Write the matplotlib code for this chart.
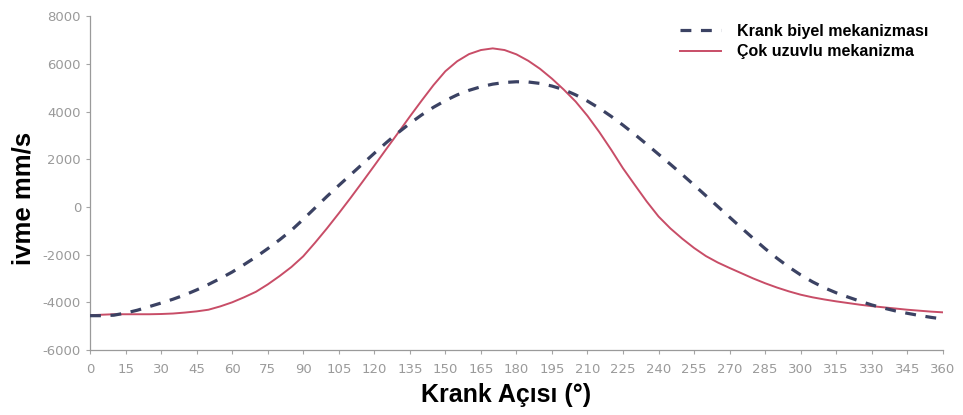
import matplotlib
matplotlib.use("Agg")
import matplotlib.pyplot as plt

plt.rcParams["axes.unicode_minus"] = False

angles = list(range(0, 361, 5))

krank_biyel = [
    -4560, -4560, -4540, -4450, -4330, -4180, -4030, -3870, -3690, -3480,
    -3250, -3000, -2730, -2420, -2100, -1750, -1380, -980, -520, -40,
    440, 900, 1350, 1800, 2250, 2690, 3110, 3500, 3860, 4180,
    4460, 4700, 4890, 5040, 5150, 5220, 5250, 5240, 5180, 5070,
    4920, 4700, 4440, 4140, 3800, 3430, 3040, 2630, 2210, 1790,
    1360, 920, 470, 20, -430, -880, -1320, -1750, -2150, -2520,
    -2850, -3140, -3390, -3600, -3780, -3950, -4110, -4240, -4360, -4460,
    -4550, -4630, -4700,
]

cok_uzuvlu = [
    -4540, -4520, -4500, -4500, -4500, -4500, -4490, -4470, -4430, -4380,
    -4310, -4170, -4000, -3790, -3560, -3250, -2900, -2520, -2070, -1500,
    -900, -270, 380, 1050, 1730, 2420, 3100, 3790, 4460, 5110,
    5690, 6110, 6410, 6580, 6650, 6580, 6400, 6130, 5790, 5380,
    4920, 4420, 3820, 3140, 2400, 1620, 920, 230, -400, -900,
    -1330, -1720, -2060, -2330, -2560, -2780, -3000, -3200, -3380, -3540,
    -3680, -3790, -3880, -3960, -4030, -4100, -4160, -4210, -4260, -4310,
    -4350, -4390, -4420,
]

x_ticks = list(range(0, 361, 15))
y_ticks = [-6000, -4000, -2000, 0, 2000, 4000, 6000, 8000]

series_names = ["Krank biyel mekanizması", "Çok uzuvlu mekanizma"]
x_label = "Krank Açısı (°)"
y_label = "ivme mm/s"

fig = plt.figure(figsize=(9.63, 4.15), dpi=100)
ax = fig.add_axes([0.0935, 0.1566, 0.8855, 0.8044])

ax.plot(angles, krank_biyel, color="#3b4263", lw=2.3, dashes=(3.4, 3.0),
        label=series_names[0], zorder=3)
ax.plot(angles, cok_uzuvlu, color="#c84d67", lw=1.4,
        label=series_names[1], zorder=2)

ax.set_xlim(0, 360)
ax.set_ylim(-6000, 8000)
ax.set_xticks(x_ticks)
ax.set_yticks(y_ticks)
ax.tick_params(axis="both", colors="#a5a5a5", labelcolor="#9a9a9a",
               length=3, width=0.8, labelsize=9.5)
ax.tick_params(axis="x", pad=6)

for s in ["top", "right"]:
    ax.spines[s].set_visible(False)
for s in ["left", "bottom"]:
    ax.spines[s].set_color("#9a9a9a")
    ax.spines[s].set_linewidth(0.9)

ax.set_xlabel(x_label, fontsize=18, fontweight="bold",
              family=["Liberation Sans", "DejaVu Sans"])
ax.xaxis.set_label_coords(0.488, -0.1)
ax.set_ylabel(y_label, fontsize=18.5, fontweight="bold",
              family=["Liberation Sans", "DejaVu Sans"])
ax.yaxis.set_label_coords(-0.064, 0.455)

leg = ax.legend(loc="upper right", bbox_to_anchor=(1.0, 1.02), frameon=False,
                prop={"family": "Liberation Sans", "weight": "bold", "size": 11.5},
                handlelength=2.6, handletextpad=1.0, labelspacing=0.35)

fig.savefig("out.png", dpi=100)
